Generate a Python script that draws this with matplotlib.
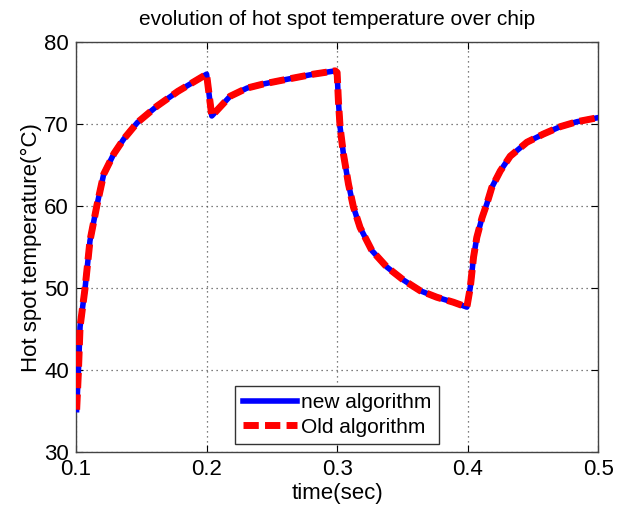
import matplotlib
matplotlib.use("Agg")
import matplotlib.pyplot as plt

plt.rcParams['font.family'] = ['Liberation Sans', 'DejaVu Sans']

# hot spot temperature
t = [0.1005, 0.1018, 0.1031, 0.107, 0.1107, 0.116, 0.1212, 0.129, 0.1366, 0.147,
     0.162, 0.178, 0.198, 0.2, 0.204, 0.218, 0.231, 0.2435, 0.256, 0.269, 0.282,
     0.2985, 0.3, 0.301, 0.3023, 0.3048, 0.3087, 0.3125, 0.3176, 0.3266, 0.338,
     0.3508, 0.3636, 0.3764, 0.389, 0.3994, 0.402, 0.4045, 0.407, 0.411, 0.4147,
     0.4185, 0.425, 0.4326, 0.4454, 0.458, 0.471, 0.4837, 0.5]
temp = [35.2, 39.7, 45.3, 50.1, 55.8, 60.1, 63.9, 66.4, 68.2, 70.2,
        72.2, 74.0, 75.9, 76.1, 71.0, 73.4, 74.4, 74.9, 75.3, 75.7, 76.1,
        76.5, 76.3, 72.8, 69.6, 66.4, 62.7, 59.9, 57.4, 54.6, 52.6,
        51.0, 49.7, 48.9, 48.3, 47.7, 50.1, 53.8, 56.2, 58.6, 60.3,
        62.3, 64.3, 66.1, 67.8, 68.8, 69.7, 70.3, 70.8]
new_alg = temp
old_alg = temp

fig = plt.figure(figsize=(6.18, 5.14), dpi=100)
ax = fig.add_axes([0.123, 0.12, 0.845, 0.798])

ax.plot(t, new_alg, color='#0000ff', lw=4, label='new algorithm', zorder=3)
ax.plot(t, old_alg, color='#ff0000', lw=5, ls=(0, (2.2, 0.9)), label='Old algorithm', zorder=4)

ax.set_xlim(0.1, 0.5)
ax.set_ylim(30, 80)
ax.set_xticks([0.1, 0.2, 0.3, 0.4, 0.5])
ax.set_xticklabels(['0.1', '0.2', '0.3', '0.4', '0.5'])
ax.set_yticks([30, 40, 50, 60, 70, 80])
ax.tick_params(direction='in', top=True, right=True, labelsize=16, length=5, pad=5)
ax.grid(True, color='#555555', ls=(0, (1, 3)), lw=0.9)
for s in ax.spines.values():
    s.set_color('#444444')
    s.set_linewidth(1.0)

ax.set_title('evolution of hot spot temperature over chip', fontsize=15, pad=12)
ax.set_xlabel('time(sec)', fontsize=16, labelpad=2)
ax.set_ylabel('Hot spot temperature(\u00b0C)', fontsize=16, labelpad=2)

leg = ax.legend(loc='lower center', fontsize=15, fancybox=False, framealpha=1,
                edgecolor='#333333', handlelength=2.6, handletextpad=0.2,
                borderaxespad=0.4, borderpad=0.35, labelspacing=0.25)
leg.get_frame().set_linewidth(1.0)

fig.savefig('out.png', dpi=100)
